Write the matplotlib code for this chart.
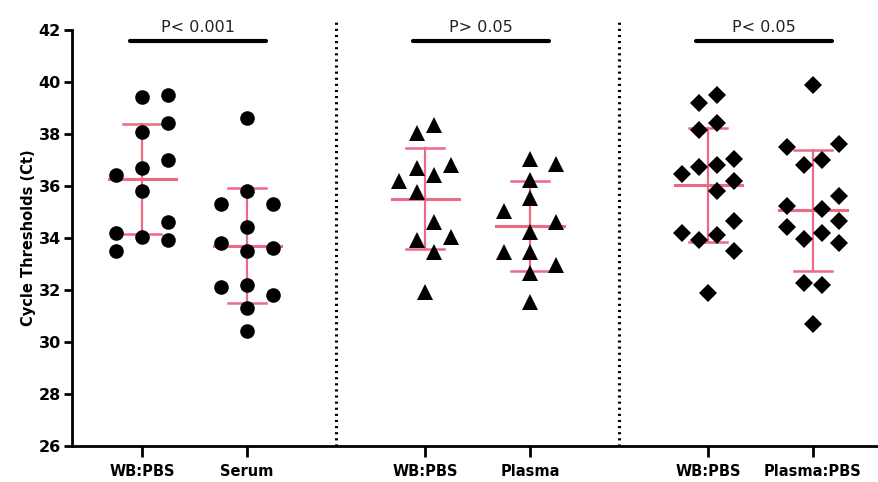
import matplotlib.pyplot as plt
import numpy as np

# Ct values, one list per sample type
wb_pbs_1 = [36.4, 34.2, 33.5, 39.4, 38.06, 36.7, 35.8, 34.05, 39.5, 38.4, 37.0, 34.6, 33.9]
serum = [35.3, 33.8, 32.1, 38.6, 35.8, 34.4, 33.5, 32.2, 31.3, 30.4, 35.3, 33.6, 31.8]
wb_pbs_2 = [38.35, 38.05, 36.7, 36.8, 36.2, 36.4, 35.75, 34.6, 33.9, 34.05, 33.45, 31.9]
plasma = [37.03, 36.85, 36.23, 35.53, 35.05, 34.6, 34.24, 33.45, 33.45, 32.96, 32.64, 31.55]
wb_pbs_3 = [39.5, 39.2, 38.43, 38.13, 37.03, 36.74, 36.8, 36.46, 36.2, 35.8,
            34.63, 34.2, 34.1, 33.9, 33.5, 31.87]
plasma_pbs = [39.88, 37.51, 37.62, 36.8, 37.0, 35.62, 35.23, 35.1, 34.63, 34.43,
              34.2, 33.95, 33.82, 32.28, 32.19, 30.69]

# jitter column of each point (-3 .. 3)
cols_1 = [-3, -3, -3, 0, 0, 0, 0, 0, 3, 3, 3, 3, 3]
cols_serum = [-3, -3, -3, 0, 0, 0, 0, 0, 0, 0, 3, 3, 3]
cols_2 = [1, -1, -1, 3, -3, 1, -1, 1, -1, 3, 1, 0]
cols_plasma = [0, 3, 0, 0, -3, 3, 0, -3, 0, 3, 0, 0]
cols_3 = [1, -1, 1, -1, 3, -1, 1, -3, 3, 1, 3, -3, 1, -1, 3, 0]
cols_plasma_pbs = [0, -3, 3, -1, 1, 3, -3, 1, 3, -3, 1, -1, 3, -1, 1, 0]

labels = ["WB:PBS", "Serum", "WB:PBS", "Plasma", "WB:PBS", "Plasma:PBS"]
p_texts = ["P< 0.001", "P> 0.05", "P< 0.05"]

groups = [wb_pbs_1, serum, wb_pbs_2, plasma, wb_pbs_3, plasma_pbs]
cols = [cols_1, cols_serum, cols_2, cols_plasma, cols_3, cols_plasma_pbs]
markers = ["o", "o", "^", "^", "D", "D"]
sizes = [10.5, 10.5, 11.5, 11.5, 9.5, 9.5]
xpos = [1, 2, 3.7, 4.7, 6.4, 7.4]
pink = "#EC6A86"

fig = plt.figure(figsize=(8.79, 4.82), dpi=100)
ax = fig.add_axes([0.082, 0.075, 0.918, 0.863])

for x, vals, c, m, s in zip(xpos, groups, cols, markers, sizes):
    vals = np.array(vals)
    mean, sd = vals.mean(), vals.std(ddof=1)
    ax.plot([x - 0.32, x + 0.32], [mean, mean], color=pink, lw=2.2, zorder=2)
    ax.plot([x, x], [mean - sd, mean + sd], color=pink, lw=1.6, zorder=2)
    for y in (mean - sd, mean + sd):
        ax.plot([x - 0.18, x + 0.18], [y, y], color=pink, lw=1.8, zorder=2)
    ax.plot(x + np.array(c) * 0.083, vals, m, color="black", ms=s,
            markeredgewidth=0, zorder=3, linestyle="none")

# significance bars
for i, txt in enumerate(p_texts):
    x0, x1 = xpos[2 * i], xpos[2 * i + 1]
    ax.plot([x0 - 0.12, x1 + 0.18], [41.58, 41.58], color="black", lw=3,
            solid_capstyle="round", clip_on=False)
    ax.text((x0 + x1) / 2 + 0.03, 41.8, txt, ha="center", va="bottom",
            fontsize=11.5, color="#222222")

# dotted separators
for x in (2.85, 5.55):
    ax.plot([x, x], [26, 42.35], color="black", lw=2.2,
            linestyle=(0, (0.7, 1.3)), clip_on=False)

ax.set_xlim(0.33, 8.03)
ax.set_ylim(26, 42)
ax.set_yticks(range(26, 43, 2))
ax.set_xticks(xpos)
ax.set_xticklabels(labels, fontsize=10.5, fontweight="bold")
for t in ax.get_yticklabels():
    t.set_fontweight("bold")
    t.set_fontsize(11.5)
ax.set_ylabel("Cycle Thresholds (Ct)", fontsize=10.5, fontweight="bold", labelpad=2)

for side in ("top", "right"):
    ax.spines[side].set_visible(False)
for side in ("left", "bottom"):
    ax.spines[side].set_linewidth(2)
ax.tick_params(axis="y", length=6, width=2, pad=2)
ax.tick_params(axis="x", length=8, width=2, pad=5)

fig.savefig("out.png", dpi=100)
